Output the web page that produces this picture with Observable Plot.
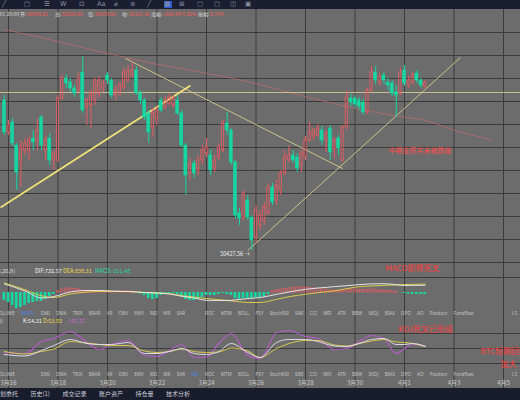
<!DOCTYPE html>
<html><head><meta charset="utf-8">
<script src="https://cdn.jsdelivr.net/npm/d3@7"></script>
<script src="https://cdn.jsdelivr.net/npm/@observablehq/plot@0.6"></script>
<style>
html,body{margin:0;padding:0;background:#6c6c6c;}
#root{position:relative;width:520px;height:400px;overflow:hidden;background:#6c6c6c;font-family:"Noto Sans CJK SC","Noto Sans",sans-serif;}
.abs{position:absolute;white-space:nowrap;line-height:1;}
.layer{position:absolute;left:0;line-height:0;}
.layer svg{display:block;overflow:visible;}
.bar{position:absolute;left:0;width:520px;}
.row{position:absolute;display:flex;white-space:nowrap;line-height:1;align-items:center;}
</style></head>
<body><div id="root"></div>
<script>
// ---------- DATA ----------
const candleStart = Date.UTC(2021, 2, 15, 20); // first 4h candle
const openP = [58252,56583,57104,55904,55122,55643,55643,56270,56165,57365,
55643,56270,55122,55122,58357,59400,59191,58878,58774,59713,
57887,57991,58252,58617,58878,59557,59296,58513,58670,58930,
59296,59557,59817,58617,58252,57574,56843,57313,58252,57887,
58096,57991,58252,57574,55904,54444,54965,54600,55122,55487,
55383,54704,55278,55643,57052,56687,55017,52357,52148,53035,
52148,51104,51730,51991,52357,53713,53035,53557,54444,55122,
55383,55278,54861,55278,56165,56374,56426,56687,56165,56791,
55748,56270,55122,56843,58357,58357,58252,58148,57626,58774,
59713,59191,59557,59191,59139,58670,58617,59817,59035,59191,
59661,59296,58983];
const highP = [58513,57209,57313,56009,56165,56270,56426,56687,57313,57470,
56426,56530,55643,58513,59557,59609,59400,59035,59713,60548,
58357,58774,59400,59504,59296,59713,59400,59035,59191,59922,
60078,60235,60026,58774,58357,57730,57835,57939,58409,58461,
58617,58513,58513,57730,56009,55226,55122,55383,55904,56270,
55643,55383,56009,57209,57626,56791,55122,52617,53557,53296,
52252,52774,52513,52931,53922,53922,54078,54600,55643,55904,
55643,55487,55643,56374,57104,56791,57000,56896,56687,56948,
56322,56426,56948,58774,58565,58513,58409,58357,58878,60026,
60026,59661,59713,59400,59296,59035,59922,60078,59504,59713,
59817,59400,59296];
const lowP = [56426,56426,55852,53557,53713,55383,55122,55643,55643,55643,
55122,54861,54600,55017,58252,58878,58670,58409,58670,57574,
56948,56791,57991,58357,58670,59087,58357,58252,58461,58774,
59191,59400,58513,58044,57209,56009,56322,56948,57626,57730,
57991,57835,57470,55800,53296,54078,54183,54339,54861,55278,
54339,54496,55122,55539,56426,54861,52096,51730,51991,51991,
50427.56,50844,51470,51730,52252,52774,52774,53296,54339,55017,
54965,54496,54496,55122,56061,56165,56322,55904,55539,55122,
55226,55383,55017,56687,57939,57835,57730,57470,57522,58670,
59087,58983,59087,58774,58461,57365,58513,58983,58878,59087,
59139,58878,58878];
const closeP = [56583,56948,56009,54496,55800,56009,56165,56061,56687,55904,
56165,55122,55487,58357,59400,59139,58878,58617,59400,57730,
58252,58617,59296,59296,59139,59296,58513,58774,59035,59713,
59817,59817,58617,58252,57365,56583,57574,57730,57730,58252,
58409,58357,57574,55904,54339,54965,54444,55122,55643,55800,
54600,55122,55800,57052,56687,55017,52252,52096,53400,52148,
50948,52513,52252,52670,53713,52931,53817,54444,55278,55383,
55122,54704,55487,56165,56583,56687,56791,56165,56530,55539,
56165,55748,56843,58409,58148,58044,57939,57626,58774,59713,
59296,59452,59296,59035,58617,58513,59713,59139,59296,59557,
59296,59035,59191];

// moving average (candle index, value)
const maIdx = [0,12,24,36,48,60,72,84,96,102,110,118];
const maVals = [61957,61383,60757,60183,59713,59191,58513,57887,57418,57209,56635,56217];

// drawn trend lines
const trendT1 = ["2021-03-15T16:15:00Z","2021-03-20T17:27:00Z","2021-03-25T16:00:00Z"];
const trendP1 = [52670, 60444, 50427.56];
const trendT2 = ["2021-03-23T08:30:00Z","2021-03-29T11:54:00Z","2021-04-03T06:18:00Z"];
const trendP2 = [59035, 54704, 60496];
const levelP = [58670];

// MACD histogram per candle
const macdHist = [-800,-1000,-1300,-1600,-1500,-1300,-1100,-1000,-900,-900,
-700,-400,-200,100,300,400,400,350,300,200,
150,120,150,150,120,100,80,60,80,100,
100,80,0,-150,-300,-600,-700,-600,-300,-150,
-100,-100,-200,-400,-700,-800,-800,-700,-500,-300,
-300,-300,-200,-100,-200,-300,-600,-700,-600,-600,
-600,-500,-500,-400,-200,100,200,300,350,400,
450,500,500,500,450,400,350,300,300,200,
200,150,200,300,300,300,250,250,250,300,
250,200,200,150,100,50,0,-100,-150,-200,
-200,-200,-211.48];

// indicator lines sampled at candle indices
const lineIdx = [0,5,9,12,16,20,23,26,30,34,37,40,43,46,49,52,55,59,62,66,69,73,76,80,83,86,89,92,95,97,99,102];
const difVals = [850,150,-550,-400,50,200,200,150,100,0,-50,-150,-380,-550,-780,-800,-780,-600,-500,-180,50,320,450,580,680,790,860,880,780,700,710,732.57];
const deaVals = [960,280,-330,-500,-150,40,100,100,100,0,-60,-110,-320,-460,-600,-720,-840,-1000,-1000,-680,-420,-180,-20,160,380,580,650,710,760,800,815,838.31];
const kVals = [38,35,46,56,68,60,58,58,62,40,40,44,50,40,38,44,60,42,32,62,68,68,64,55,54,60,68,70,58,58,60,54.31];
const dVals = [44,39,44,49,64,61,58,56,56,45,42,44,49,44,42,43,51,45,32,50,60,66,66,57,55,60,65,68,63,62,60,53.83];
const jVals = [42,40,64,70,84,62,48,58,66,36,34,46,58,32,33,60,80,36,30,82,86,74,70,48,50,64,76,70,40,50,58,55.27];

// grids / ticks
const priceGrid = [49800,51000,52200,53400,54600,55800,57000,58200,59400,60600,61800];
const macdGrid = [1500];
const kdjGrid = [80,50,20];
const gridDates = ["2021-03-16","2021-03-18","2021-03-20","2021-03-22","2021-03-24","2021-03-26","2021-03-28","2021-03-30","2021-04-01","2021-04-03","2021-04-05"];
const dateLabels = ["3月16","3月18","3月20","3月22","3月24","3月26","3月28","3月30","4月1","4月3","4月5"];

// annotations (time, value, text)
const mainNoteT = ["2021-03-31T08:30:00Z"], mainNoteV = [55643], mainNoteText = ["中期支撑并未被跌破"];
const macdNoteT = ["2021-03-31T05:36:00Z"], macdNoteV = [2400], macdNoteText = ["MACD即将死叉"];
const kdjNoteT = ["2021-03-31T18:12:00Z","2021-04-04T01:42:00Z","2021-04-04T21:06:00Z"];
const kdjNoteV = [88, 44, 18];
const kdjNoteText = ["KDJ死叉已形成","BTC短期回调风险","加大"];

// UI text
const toolIcons = ["╱","□","☰","W","⊡","Aa","⌀","⊘","╱","▦","⊞","▢","▢","◫","▣"];
const infoLabels = ["开:","高:","低:","收:","涨幅:","振幅:"];
const infoVals = ["58983.25","59296.00","58878.00","59191.30","+208.05 0.35%","0.71%"];
const indicatorTabs = ["VOLUME","MACD","DMI","DMA","TRIX","BRAR","VR","OBV","EMV","RSI","WR","SAR","KDJ","ROC","MTM","BOLL","PSY","StochRSI","SMI","CCI","MFI","ATR","BBW","SKDJ","BIAS","DPO","AO","Position","Fundflow"];
const bottomTabs = ["计划委托","历史(1)","成交记录","账户资产","持仓量","技术分析"];

// ---------- RENDER ----------
const W = 520, HOUR = 3600e3;
const RED = "#e45c62", GREEN = "#16d6a2", GRID = "#3c3c3c";
const FONT = "Noto Sans CJK SC";
const xScale = {type:"utc", domain:[new Date(Date.UTC(2021,2,15,16,14,33)), new Date(Date.UTC(2021,3,5,16,29,0))], range:[0,W], axis:null};
const tAt = i => new Date(candleStart + i*4*HOUR);
const root = document.getElementById("root");

function layer(topY, el){ const d=document.createElement("div"); d.className="layer"; d.style.top=topY+"px"; d.appendChild(el); root.appendChild(d); }
function span(txt, css){ const s=document.createElement("span"); s.className="abs"; s.textContent=txt; s.style.cssText+=css; root.appendChild(s); return s; }
const base = {width:W, margin:0, x:xScale, style:{background:"transparent", overflow:"visible"}};

// background vertical grid
layer(9, Plot.plot({...base, height:379, marks:[Plot.ruleX(gridDates.map(d=>new Date(d)), {stroke:GRID})]}));

// main price chart
const candles = openP.map((o,i)=>({t:tAt(i), o, h:highP[i], l:lowP[i], c:closeP[i]}));
const ups = candles.filter(d=>d.c>=d.o), downs = candles.filter(d=>d.c<d.o);
const sh = (d,k)=>new Date(+d.t + k*HOUR);
const maPts = maIdx.map((i,k)=>({t:tAt(i), v:maVals[k]}));
const trends = trendT1.map((t,k)=>({t1:new Date(t), p1:trendP1[k], t2:new Date(trendT2[k]), p2:trendP2[k]}));
const lowIdx = lowP.indexOf(Math.min(...lowP));
const lowPt = [{t:tAt(lowIdx), v:lowP[lowIdx]}];
const mainNotes = mainNoteT.map((t,k)=>({t:new Date(t), v:mainNoteV[k], text:mainNoteText[k]}));

layer(20, Plot.plot({...base, height:247, y:{domain:[49539,62426], axis:null}, marks:[
  Plot.ruleY(priceGrid, {stroke:GRID}),
  Plot.line(maPts, {x:"t", y:"v", stroke:"#d06a70", strokeOpacity:0.6, strokeWidth:1, curve:"monotone-x"}),
  Plot.ruleY(levelP, {stroke:"#d8ce98", strokeOpacity:0.85}),
  Plot.link([trends[1], trends[2]], {x1:"t1", y1:"p1", x2:"t2", y2:"p2", stroke:"#d6cb90", strokeWidth:0.9}),
  Plot.link([trends[0]], {x1:"t1", y1:"p1", x2:"t2", y2:"p2", stroke:"#f2e47a", strokeWidth:1.6}),
  Plot.ruleX(downs, {x:"t", y1:"l", y2:"h", stroke:GREEN}),
  Plot.rect(downs, {x1:d=>sh(d,-1.5), x2:d=>sh(d,1.5), y1:"o", y2:"c", fill:GREEN, stroke:GREEN, strokeWidth:0.5}),
  Plot.ruleX(ups, {x:"t", y1:"h", y2:d=>Math.max(d.o,d.c), stroke:RED}),
  Plot.ruleX(ups, {x:"t", y1:d=>Math.min(d.o,d.c), y2:"l", stroke:RED}),
  Plot.rect(ups, {x1:d=>sh(d,-1.1), x2:d=>sh(d,1.1), y1:"o", y2:"c", fill:"none", stroke:RED, strokeWidth:0.9}),
  Plot.text(lowPt, {x:"t", y:"v", text:d=>d.v.toFixed(2)+" →", textAnchor:"end", dx:-2, dy:4, fill:"#ececec", fontSize:5.5, fontFamily:FONT}),
  Plot.text(mainNotes, {x:"t", y:"v", text:"text", textAnchor:"start", fill:"#ff4a4a", fontSize:7, fontFamily:FONT})
]}));

// MACD panel
const hist = macdHist.map((v,i)=>({t:tAt(i), v}));
const difPts = lineIdx.map((i,k)=>({t:tAt(i), v:difVals[k]}));
const deaPts = lineIdx.map((i,k)=>({t:tAt(i), v:deaVals[k]}));
const macdNotes = macdNoteT.map((t,k)=>({t:new Date(t), v:macdNoteV[k], text:macdNoteText[k]}));
layer(265, Plot.plot({...base, height:47, y:{domain:[-2000,2700], axis:null}, marks:[
  Plot.ruleY(macdGrid, {stroke:GRID}),
  Plot.rect(hist.filter(d=>d.v<0), {x1:d=>sh(d,-1.3), x2:d=>sh(d,1.3), y1:0, y2:"v", fill:GREEN}),
  Plot.rect(hist.filter(d=>d.v>=0), {x1:d=>sh(d,-1.1), x2:d=>sh(d,1.1), y1:0, y2:"v", fill:"none", stroke:RED, strokeWidth:0.8}),
  Plot.line(deaPts, {x:"t", y:"v", stroke:"#e6d24a", strokeWidth:0.9, curve:"monotone-x"}),
  Plot.line(difPts, {x:"t", y:"v", stroke:"#f0f0f0", strokeWidth:0.9, curve:"monotone-x"}),
  Plot.text(macdNotes, {x:"t", y:"v", text:"text", textAnchor:"start", fill:"#ff3b3b", fontSize:8, fontFamily:FONT})
]}));

// KDJ panel
const mk = arr => lineIdx.map((i,k)=>({t:tAt(i), v:arr[k]}));
const kdjNotes = kdjNoteT.map((t,k)=>({t:new Date(t), v:kdjNoteV[k], text:kdjNoteText[k]}));
layer(318, Plot.plot({...base, height:55, y:{domain:[0,110], axis:null}, marks:[
  Plot.ruleY(kdjGrid, {stroke:GRID}),
  Plot.line(mk(jVals), {x:"t", y:"v", stroke:"#b85ccc", strokeWidth:1.2, strokeOpacity:0.9, curve:"monotone-x"}),
  Plot.line(mk(dVals), {x:"t", y:"v", stroke:"#e2d04a", strokeWidth:0.9, curve:"monotone-x"}),
  Plot.line(mk(kVals), {x:"t", y:"v", stroke:"#e8e2f6", strokeWidth:0.9, curve:"monotone-x"}),
  Plot.text(kdjNotes, {x:"t", y:"v", text:"text", textAnchor:"start", fill:"#ff3b3b", fontSize:8, fontFamily:FONT})
]}));

// date axis
const dateTicks = gridDates.map((d,k)=>({t:new Date(d), label:dateLabels[k]}));
layer(377, Plot.plot({...base, height:11, marks:[
  Plot.text(dateTicks, {x:"t", text:"label", frameAnchor:"middle", fill:"#cccccc", fontSize:6, fontFamily:FONT})
]}));

// top toolbar
const topBar = document.createElement("div"); topBar.className="bar"; topBar.style.cssText+="top:0;height:9px;background:#1b1e31;"; root.appendChild(topBar);
const iconX = [5,27,47,63,82,100,117,133,150,167,182,200,217,233,248];
const hl = document.createElement("div"); hl.style.cssText="position:absolute;left:164px;top:1px;width:8px;height:7px;background:#2c5bd0;"; root.appendChild(hl);
toolIcons.forEach((ic,k)=>span(ic, `left:${iconX[k]-3}px;top:1px;font-size:6.5px;color:#8d91a5;font-family:'DejaVu Sans';`));

// info row
span("2021/04/01 20:00", "right:501px;top:11px;font-size:5px;color:#d8d8d8;");
const infoX = [20,55,88,122,151,198];
const infoValX = [27,62,95,129,163,210];
infoLabels.forEach((l,k)=>{
  span(l, `left:${infoX[k]}px;top:11px;font-size:5px;color:#d8d8d8;`);
  span(infoVals[k], `left:${infoValX[k]}px;top:11px;font-size:5px;color:#ff5a5a;`);
});

// MACD labels
span("MACD(12,26,9)", "right:505px;top:269px;font-size:5.5px;color:#dddddd;");
span("DIF:"+difVals[difVals.length-1].toFixed(2), "left:35px;top:269px;font-size:5.5px;color:#f2f2f2;");
span("DEA:"+deaVals[deaVals.length-1].toFixed(2), "left:63px;top:269px;font-size:5.5px;color:#ecd84c;");
span("MACD:"+macdHist[macdHist.length-1].toFixed(2), "left:95px;top:269px;font-size:5.5px;color:#1fd9a6;");

// KDJ labels
span("KDJ(9,3,3)", "right:517px;top:319px;font-size:5.5px;color:#dddddd;");
span("K:"+kVals[kVals.length-1].toFixed(2), "left:23px;top:319px;font-size:5.5px;color:#f2f2f2;");
span("D:"+dVals[dVals.length-1].toFixed(2), "left:43px;top:319px;font-size:5.5px;color:#ecd84c;");
span("J:"+jVals[jVals.length-1].toFixed(2), "left:67px;top:319px;font-size:5.5px;color:#d064d6;");

// indicator tab rows
function tabRow(topY, active, hidden){
  const r=document.createElement("div"); r.className="row"; r.style.cssText+=`left:-4px;top:${topY}px;gap:6.3px;font-size:4.6px;color:#c4c4c4;font-family:'Noto Sans';`;
  indicatorTabs.forEach(n=>{ const s=document.createElement("span"); s.textContent=n;
    if(n===active) s.style.color="#4d86e8"; if(n===hidden) s.style.visibility="hidden"; r.appendChild(s); });
  root.appendChild(r);
  span("LS", `left:512px;top:${topY}px;font-size:4.6px;color:#c4c4c4;`);
}
tabRow(311, "MACD", "KDJ");
tabRow(372, "KDJ", "MACD");

// bottom bar
const bot = document.createElement("div"); bot.className="bar"; bot.style.cssText+="top:388px;height:12px;background:#191c2d;"; root.appendChild(bot);
const br=document.createElement("div"); br.className="row"; br.style.cssText+="left:-6px;top:391px;gap:12.5px;font-size:6px;color:#cfd0da;";
bottomTabs.forEach(n=>{ const s=document.createElement("span"); s.textContent=n; br.appendChild(s); });
root.appendChild(br);
</script></body></html>
